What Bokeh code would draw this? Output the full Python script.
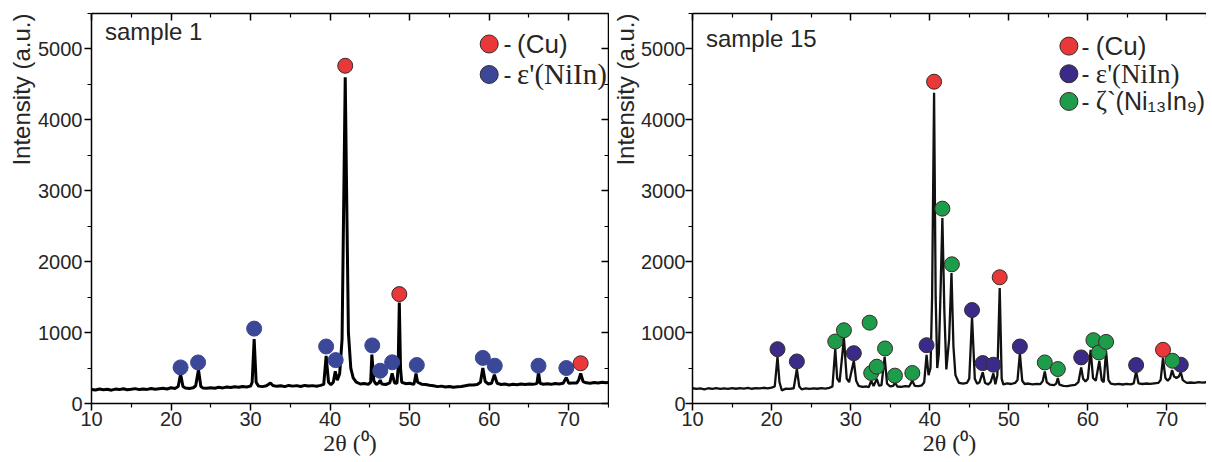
from bokeh.plotting import figure
from bokeh.layouts import row
from bokeh.models import LinearAxis, FixedTicker, Label, Range1d, Title
from bokeh.embed import file_html
from bokeh.resources import INLINE

# ---------------- data ----------------
x_ticks = [10, 20, 30, 40, 50, 60, 70]
x_minor = [15, 25, 35, 45, 55, 65, 75]
y_ticks = [0, 1000, 2000, 3000, 4000, 5000]
y_minor = [500, 1500, 2500, 3500, 4500, 5500]

# sample 1 pattern (2theta, intensity)
s1_x = [10.0, 10.5, 11.0, 11.5, 12.0, 12.5, 13.0, 13.5, 14.0, 14.5, 15.0, 15.5, 16.0, 16.5, 17.0, 17.5,
        18.0, 18.5, 19.0, 19.5, 20.0, 20.5, 20.9, 21.2, 21.5, 21.8, 22.3, 22.8, 23.1, 23.45, 23.75, 24.0,
        24.5, 25.0, 25.5, 26.0, 26.5, 27.0, 27.5, 28.0, 28.5, 29.0, 29.5, 30.0, 30.2, 30.45, 30.7, 31.0,
        31.5, 32.0, 32.5, 32.8, 33.3, 33.8, 34.3, 34.8, 35.3, 35.8, 36.3, 36.8, 37.3, 37.8, 38.3, 38.8,
        39.2, 39.5, 39.8, 40.1, 40.4, 40.65, 40.9, 41.2, 41.5, 41.75, 41.9, 42.05, 42.3, 42.6, 42.9, 43.3,
        43.8, 44.3, 44.8, 45.1, 45.25, 45.5, 45.8, 46.1, 46.3, 46.5, 47.0, 47.5, 47.8, 48.1, 48.4, 48.55,
        48.7, 48.85, 49.0, 49.5, 50.0, 50.5, 50.6, 50.8, 51.0, 51.5, 52.0, 52.5, 53.0, 53.5, 54.0, 54.5,
        55.0, 55.5, 56.0, 56.5, 57.0, 57.5, 58.0, 58.5, 58.9, 59.2, 59.5, 59.9, 60.3, 60.65, 61.0, 61.5,
        62.0, 62.5, 63.0, 63.5, 64.0, 64.5, 65.0, 65.5, 66.0, 66.2, 66.4, 66.8, 67.3, 67.8, 68.3, 68.8,
        69.3, 69.7, 70.0, 70.5, 71.0, 71.25, 71.5, 71.8, 72.2, 72.7, 73.2, 73.7, 74.2, 74.7, 75.0]
s1_y = [198, 190, 205, 195, 200, 188, 203, 196, 208, 194, 201, 210, 196, 205, 199, 212,
        202, 208, 214, 205, 222, 212, 240, 416, 240, 218, 212, 222, 250, 477, 240, 220,
        214, 222, 216, 228, 220, 232, 225, 236, 228, 240, 232, 245, 300, 907, 300, 245,
        238, 250, 290, 255, 242, 250, 238, 255, 245, 252, 240, 255, 246, 252, 244, 256,
        270, 673, 300, 265, 300, 453, 330, 420, 900, 3200, 4600, 3200, 1000, 500, 360, 300,
        275, 282, 270, 300, 690, 320, 270, 290, 329, 275, 268, 290, 424, 290, 285, 500,
        1424, 500, 300, 280, 286, 270, 300, 424, 300, 272, 268, 258, 250, 238, 245, 232,
        240, 228, 236, 240, 250, 260, 262, 268, 300, 500, 310, 275, 285, 405, 285, 268,
        274, 262, 270, 265, 275, 268, 276, 270, 280, 438, 285, 272, 278, 270, 282, 275,
        285, 367, 285, 290, 288, 330, 424, 310, 292, 286, 296, 290, 300, 292, 298]

s1_cu_x = [41.9, 48.7, 71.5]
s1_cu_y = [4763, 1543, 567]
s1_niin_x = [21.2, 23.4, 30.45, 39.5, 40.7, 45.3, 46.3, 47.8, 50.9, 59.2, 60.7, 66.2, 69.7]
s1_niin_y = [509, 579, 1056, 804, 612, 819, 462, 581, 543, 643, 533, 533, 500]

# sample 15 pattern
s15_x = [10.0, 10.5, 11.0, 11.5, 12.0, 12.5, 13.0, 13.5, 14.0, 14.5, 15.0, 15.5, 16.0, 16.5, 17.0, 17.5,
         18.0, 18.5, 19.0, 19.5, 20.0, 20.4, 20.75, 21.0, 21.3, 21.8, 22.3, 22.8, 23.2, 23.5, 23.8, 24.3,
         24.8, 25.3, 25.8, 26.3, 26.8, 27.3, 27.7, 28.05, 28.3, 28.6, 29.15, 29.5, 29.8, 30.4, 30.7, 31.0,
         31.5, 32.0, 32.3, 32.6, 32.9, 33.3, 33.6, 33.9, 34.3, 34.6, 35.0, 35.4, 35.6, 35.9, 36.4, 36.9,
         37.4, 37.8, 38.1, 38.6, 39.0, 39.3, 39.6, 39.85, 40.1, 40.3, 40.55, 40.75, 40.95, 41.15, 41.35, 41.6,
         41.85, 42.1, 42.45, 42.75, 43.0, 43.25, 43.7, 44.2, 44.7, 45.0, 45.35, 45.7, 46.0, 46.3, 46.7, 47.0,
         47.4, 47.7, 48.05, 48.3, 48.55, 48.85, 49.1, 49.3, 49.8, 50.3, 50.8, 51.1, 51.4, 51.7, 52.0, 52.5,
         53.0, 53.5, 54.0, 54.3, 54.55, 54.8, 55.2, 55.7, 56.0, 56.2, 56.4, 56.9, 57.4, 57.9, 58.4, 58.8,
         59.15, 59.4, 59.7, 60.0, 60.35, 60.65, 61.0, 61.45, 61.75, 62.0, 62.3, 62.6, 62.9, 63.4, 63.9, 64.4,
         64.9, 65.4, 65.8, 66.1, 66.4, 66.9, 67.4, 67.9, 68.4, 68.9, 69.2, 69.5, 69.8, 70.1, 70.4, 70.65,
         70.9, 71.2, 71.5, 71.75, 72.0, 72.5, 73.0, 73.5, 74.0, 74.5, 75.0]
s15_y = [215, 205, 212, 200, 215, 207, 218, 206, 214, 205, 218, 208, 216, 210, 220, 208,
         218, 212, 222, 214, 225, 240, 659, 300, 185, 210, 205, 215, 486, 240, 200, 212,
         205, 214, 208, 216, 210, 220, 240, 766, 350, 300, 921, 350, 300, 603, 320, 250,
         235, 240, 230, 322, 245, 346, 250, 260, 659, 280, 240, 250, 300, 240, 235, 245,
         240, 322, 250, 245, 255, 300, 687, 400, 500, 1500, 4383, 1500, 500, 700, 1500, 2617,
         1300, 480, 900, 1840, 800, 400, 290, 280, 290, 350, 1220, 350, 280, 300, 440, 290,
         270, 300, 425, 270, 400, 1630, 350, 270, 285, 275, 290, 330, 706, 320, 275, 282,
         270, 278, 272, 320, 453, 300, 265, 258, 280, 360, 265, 250, 245, 255, 262, 300,
         509, 350, 310, 350, 757, 360, 320, 600, 330, 300, 743, 330, 280, 270, 278, 268,
         276, 270, 285, 453, 285, 275, 282, 276, 285, 290, 330, 640, 360, 320, 360, 472,
         380, 360, 380, 440, 330, 290, 296, 290, 300, 295, 300]

s15_cu_x = [40.55, 48.85, 69.5]
s15_cu_y = [4538, 1780, 757]
s15_niin_x = [20.75, 23.2, 30.4, 39.6, 45.35, 46.7, 48.05, 51.4, 59.15, 66.1, 71.75]
s15_niin_y = [766, 593, 710, 822, 1318, 570, 547, 804, 650, 542, 547]
s15_zeta_x = [28.05, 29.15, 32.4, 32.6, 33.3, 34.35, 35.6, 37.8, 41.6, 42.8, 54.55, 56.2, 60.7, 61.4, 62.3, 70.7]
s15_zeta_y = [874, 1033, 1140, 430, 519, 776, 393, 430, 2748, 1963, 579, 486, 893, 720, 869, 603]

# ---------------- styles ----------------
SANS = "Liberation Sans"
SERIF = "Liberation Serif"
RED = "#e8383a"
BLUE1 = "#3b4897"
BLUE2 = "#3b2b88"
GREEN = "#1d9c4b"
OUT = "#3a2a2a"
TXT = "#262626"
FIG_H = 458


def style_axes(p, right_axis=True, tight=False):
    p.xaxis.ticker = FixedTicker(ticks=x_ticks, minor_ticks=x_minor)
    p.yaxis.ticker = FixedTicker(ticks=y_ticks, minor_ticks=y_minor)
    for ax in (p.xaxis[0], p.yaxis[0]):
        ax.axis_line_color = "black"
        ax.axis_line_width = 1.5
        ax.major_tick_line_color = "black"
        ax.minor_tick_line_color = "black"
        ax.major_tick_line_width = 1.5
        ax.minor_tick_line_width = 1.2
        ax.major_tick_out = 7
        ax.major_tick_in = 0
        ax.minor_tick_out = 4
        ax.minor_tick_in = 0
        ax.major_label_text_font = SANS
        ax.major_label_text_font_size = "20px"
        ax.major_label_text_color = TXT
        ax.axis_label_text_font_style = "normal"
        ax.axis_label_text_color = TXT
    p.xaxis.major_label_standoff = 1
    p.yaxis.major_label_standoff = 0 if tight else 2
    p.xaxis.axis_label = "2\u03b8 (\u2070)"
    p.xaxis.axis_label_text_font = SERIF
    p.xaxis.axis_label_text_font_size = "24px"
    p.xaxis.axis_label_standoff = 1

    extra = [("above", FixedTicker(ticks=x_ticks, minor_ticks=x_minor))]
    if right_axis:
        extra.append(("right", FixedTicker(ticks=y_ticks, minor_ticks=y_minor)))
    for side, t in extra:
        ax = LinearAxis(ticker=t)
        ax.axis_line_color = "black"
        ax.axis_line_width = 1.5
        ax.major_tick_line_color = "black"
        ax.minor_tick_line_color = "black"
        ax.major_tick_line_width = 1.5
        ax.minor_tick_line_width = 1.2
        ax.major_tick_in = 7
        ax.major_tick_out = 0
        ax.minor_tick_in = 4
        ax.minor_tick_out = 0
        ax.major_label_text_font_size = "1px"
        ax.major_label_text_color = None
        ax.major_label_standoff = 0
        p.add_layout(ax, side)

    # y title placed at the top of the left side, as in the reference
    t = Title(text="Intensity (a.u.)", align="right", text_font=SANS, text_font_size="24px",
              text_font_style="normal", text_color=TXT, standoff=0 if tight else 2, offset=0)
    p.add_layout(t, "left")


def make_fig(width, border_left, x_end, right_axis, tight=False):
    p = figure(width=width, height=FIG_H, output_backend="svg", toolbar_location=None,
               x_range=Range1d(10, x_end), y_range=Range1d(0, 5500),
               min_border_left=border_left, min_border_right=1 if right_axis else 0,
               min_border_top=13, min_border_bottom=50)
    p.grid.visible = False
    p.outline_line_color = None
    p.background_fill_color = "white"
    p.border_fill_color = "white"
    style_axes(p, right_axis, tight)
    return p


def legend(p, x_dot, x_dash, x_name, ys, colors, names, fonts, sizes):
    p.scatter(x=[x_dot] * len(ys), y=ys, size=18, fill_color=colors, line_color=OUT, line_width=1)
    for y, name, f, s in zip(ys, names, fonts, sizes):
        p.add_layout(Label(x=x_dash, y=y, text="-", text_font=SANS, text_font_size="24px",
                           text_color=TXT, text_baseline="middle"))
        p.add_layout(Label(x=x_name, y=y, text=name, text_font=f, text_font_size=s,
                           text_color=TXT, text_baseline="middle"))


# ---------------- sample 1 ----------------
p1 = make_fig(609, 91, 75, True)
p1.line(s1_x, s1_y, line_color="black", line_width=3)
p1.scatter(s1_niin_x, s1_niin_y, size=15, fill_color=BLUE1, line_color=BLUE1, line_width=1)
p1.scatter(s1_cu_x, s1_cu_y, size=15, fill_color=RED, line_color=OUT, line_width=1)
p1.add_layout(Label(x=11.7, y=5250, text="sample 1", text_font=SANS, text_font_size="24px",
                    text_color=TXT, text_baseline="middle"))
legend(p1, 60.0, 61.8, 63.5, [5070, 4640], [RED, BLUE1], ["(Cu)", "\u03b5'(NiIn)"],
       [SANS, SERIF], ["26px", "29px"])

# ---------------- sample 15 ----------------
p2 = make_fig(597, 79, 75, False, tight=True)
p2.line(s15_x, s15_y, line_color="#111111", line_width=2.3)
p2.scatter(s15_niin_x, s15_niin_y, size=15, fill_color=BLUE2, line_color=OUT, line_width=1)
p2.scatter(s15_zeta_x, s15_zeta_y, size=15, fill_color=GREEN, line_color=OUT, line_width=1)
p2.scatter(s15_cu_x, s15_cu_y, size=15, fill_color=RED, line_color=OUT, line_width=1)
p2.add_layout(Label(x=11.7, y=5150, text="sample 15", text_font=SANS, text_font_size="24px",
                    text_color=TXT, text_baseline="middle"))
legend(p2, 57.6, 59.2, 61.0, [5040, 4650, 4260], [RED, BLUE2, GREEN],
       ["(Cu)", "\u03b5'(NiIn)", "\u03b6`"], [SANS, SERIF, SERIF], ["26px", "27px", "27px"])
p2.add_layout(Label(x=63.5, y=4260, text="(Ni\u2081\u2083In\u2089)", text_font=SANS,
                    text_font_size="25px", text_color=TXT, text_baseline="middle"))

layout = row(p1, p2)
open("out.html", "w").write(file_html(layout, INLINE))
